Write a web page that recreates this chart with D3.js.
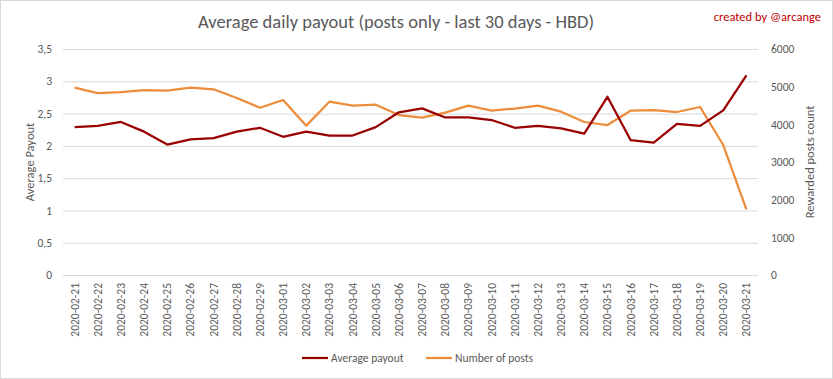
<!DOCTYPE html>
<html><head><meta charset="utf-8">
<script src="https://cdn.jsdelivr.net/npm/d3@7"></script>
<style>body{margin:0;background:#fff}svg{display:block}text{font-family:Carlito,Calibri,Lato,"Open Sans",sans-serif}</style>
</head><body><svg id="c" width="833" height="379"></svg>
<script>
const dates = ["2020-02-21","2020-02-22","2020-02-23","2020-02-24","2020-02-25","2020-02-26","2020-02-27","2020-02-28","2020-02-29","2020-03-01","2020-03-02","2020-03-03","2020-03-04","2020-03-05","2020-03-06","2020-03-07","2020-03-08","2020-03-09","2020-03-10","2020-03-11","2020-03-12","2020-03-13","2020-03-14","2020-03-15","2020-03-16","2020-03-17","2020-03-18","2020-03-19","2020-03-20","2020-03-21"];
const avgPayout = [2.29,2.31,2.37,2.22,2.02,2.10,2.12,2.22,2.28,2.14,2.22,2.16,2.16,2.29,2.52,2.58,2.44,2.44,2.40,2.28,2.31,2.27,2.19,2.76,2.09,2.05,2.34,2.31,2.55,3.09];
const numPosts = [4972,4831,4858,4911,4893,4972,4930,4699,4441,4646,3965,4601,4495,4522,4247,4177,4309,4495,4362,4420,4495,4336,4062,3982,4362,4380,4327,4460,3451,1744];
const leftTicks = [0,0.5,1,1.5,2,2.5,3,3.5];
const rightTicks = [0,1000,2000,3000,4000,5000,6000];

const svg = d3.select("#c");
const L = 63, R = 758, T = 49, B = 275;
const gray = "#595959", red = "#990000", orange = "#ED8C3B";

svg.append("rect").attr("x",0.5).attr("y",0.5).attr("width",832).attr("height",378)
  .attr("fill","#fff").attr("stroke","#d9d9d9");

const x = d3.scaleBand().domain(dates).range([L,R]);
const yL = d3.scaleLinear().domain([0,3.5]).range([B,T]);
const yR = d3.scaleLinear().domain([0,6000]).range([B,T]);
const fmt = d => String(d).replace(".", ",");

// gridlines + left axis
const gl = svg.append("g").attr("transform",`translate(${L},0)`)
  .call(d3.axisLeft(yL).tickValues(leftTicks).tickSize(-(R-L)).tickPadding(11).tickFormat(fmt));
gl.select(".domain").remove();
gl.selectAll(".tick line").attr("stroke","#d9d9d9").attr("stroke-width",1);
gl.selectAll(".tick text").attr("fill",gray).style("font-size","11.5px");

const gr = svg.append("g").attr("transform",`translate(${R},0)`)
  .call(d3.axisRight(yR).tickValues(rightTicks).tickSize(0).tickPadding(13).tickFormat(d => String(d)));
gr.select(".domain").remove();
gr.selectAll(".tick text").attr("fill",gray).style("font-size","11.5px");

// x axis labels
const gx = svg.append("g").attr("transform",`translate(0,${B})`)
  .call(d3.axisBottom(x).tickSize(0).tickPadding(0));
gx.select(".domain").remove();
gx.selectAll(".tick text").attr("fill",gray).style("font-size","11.5px")
  .attr("text-anchor","end").attr("dy","0.35em")
  .attr("transform","translate(0,8) rotate(-90)").attr("x",0).attr("y",0);

const cx = d => x(d) + x.bandwidth()/2;
const lineL = d3.line().x((d,i)=>cx(dates[i])).y(d=>yL(d));
const lineR = d3.line().x((d,i)=>cx(dates[i])).y(d=>yR(d));
svg.append("path").datum(numPosts).attr("d",lineR).attr("fill","none")
  .attr("stroke",orange).attr("stroke-width",2.25).attr("stroke-linejoin","round");
svg.append("path").datum(avgPayout).attr("d",lineL).attr("fill","none")
  .attr("stroke",red).attr("stroke-width",2.25).attr("stroke-linejoin","round");

// titles
svg.append("text").attr("x",396).attr("y",28).attr("text-anchor","middle")
  .attr("fill",gray).style("font-size","18.5px").text("Average daily payout (posts only - last 30 days - HBD)");
svg.append("text").attr("x",821).attr("y",21).attr("text-anchor","end")
  .attr("fill","#c00000").style("font-size","12.5px").text("created by @arcange");
svg.append("text").attr("transform","translate(34,162) rotate(-90)").attr("text-anchor","middle")
  .attr("fill",gray).style("font-size","12.5px").text("Average Payout");
svg.append("text").attr("transform","translate(814,162) rotate(-90)").attr("text-anchor","middle")
  .attr("fill",gray).style("font-size","12.5px").text("Rewarded posts count");

// legend
const leg = [{n:"Average payout",c:red,x:302},{n:"Number of posts",c:orange,x:426}];
leg.forEach(l=>{
  svg.append("line").attr("x1",l.x).attr("x2",l.x+26).attr("y1",358).attr("y2",358)
    .attr("stroke",l.c).attr("stroke-width",2.25);
  svg.append("text").attr("x",l.x+29).attr("y",362).attr("fill",gray)
    .style("font-size","11.5px").text(l.n);
});
</script></body></html>
